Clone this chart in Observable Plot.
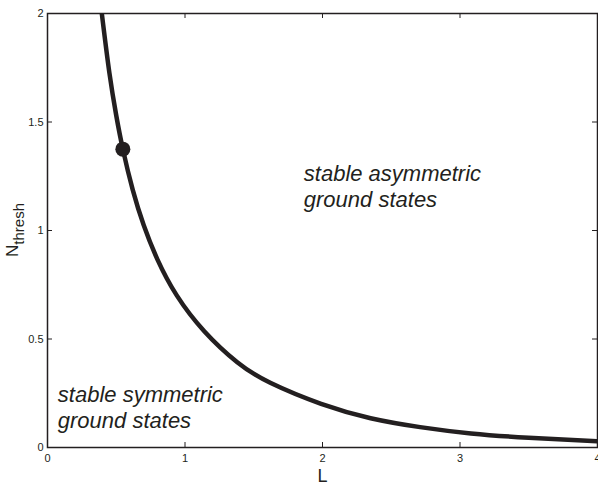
<!DOCTYPE html>
<html>
<head>
<meta charset="utf-8">
<script src="https://cdn.jsdelivr.net/npm/d3@7"></script>
<script src="https://cdn.jsdelivr.net/npm/@observablehq/plot@0.6"></script>
<style>
  html, body { margin: 0; padding: 0; background: #fff; }
  #chart { width: 598px; height: 484px; }
</style>
</head>
<body>
<div id="chart"></div>
<script>
// Curve: threshold norm vs L
const Lvals = [0.395, 0.45, 0.50, 0.548, 0.62, 0.70, 0.80, 0.94, 1.14, 1.38, 1.62, 1.99, 2.35, 2.71, 3.08, 3.5, 4.0];
const Nvals = [2.0, 1.727, 1.53, 1.375, 1.187, 1.024, 0.866, 0.701, 0.536, 0.393, 0.298, 0.201, 0.135, 0.094, 0.065, 0.045, 0.029];
// Marked point on the curve
const markL = [0.548];
const markN = [1.375];
// Ticks
const xTicks = [0, 1, 2, 3, 4];
const xTickLabels = ["0", "1", "2", "3", "4"];
const yTicks = [0, 0.5, 1, 1.5, 2];
const yTickLabels = ["0", "0.5", "1", "1.5", "2"];
// Region annotations
const annoText = ["stable asymmetric\nground states", "stable symmetric\nground states"];
const annoL = [1.864, 0.075];
const annoN = [1.315, 0.296];

const curve = Lvals.map((L, i) => ({L, N: Nvals[i]}));
const marks = markL.map((L, i) => ({L, N: markN[i]}));
const annos = annoText.map((t, i) => ({t, L: annoL[i], N: annoN[i]}));

const W = 598, H = 484;
const mL = 47, mR = 1, mT = 13, mB = 37;
const fw = W - mL - mR, fh = H - mT - mB;
const ink = "#231f20";
const font = "'Liberation Sans', Arial, Helvetica, sans-serif";

const plot = Plot.plot({
  width: W, height: H,
  marginLeft: mL, marginRight: mR, marginTop: mT, marginBottom: mB,
  style: {fontFamily: font, background: "#fff", color: ink},
  x: {domain: [0, 4]},
  y: {domain: [0, 2]},
  marks: [
    Plot.axisX({anchor: "bottom", ticks: xTicks, tickSize: 0, tickPadding: 7, fontSize: 11, label: null, fill: ink,
      tickFormat: (d) => xTickLabels[xTicks.indexOf(d)]}),
    Plot.axisY({anchor: "left", ticks: yTicks, tickSize: 0, tickPadding: 4, fontSize: 11, label: null, fill: ink,
      tickFormat: (d) => yTickLabels[yTicks.indexOf(d)]}),
    // inward ticks on all four sides
    Plot.tickX(xTicks, {x: d => d, insetTop: fh - 5, stroke: ink, strokeWidth: 1}),
    Plot.tickX(xTicks, {x: d => d, insetBottom: fh - 5, stroke: ink, strokeWidth: 1}),
    Plot.tickY(yTicks, {y: d => d, insetRight: fw - 5, stroke: ink, strokeWidth: 1}),
    Plot.tickY(yTicks, {y: d => d, insetLeft: fw - 5, stroke: ink, strokeWidth: 1}),
    Plot.line(curve, {x: "L", y: "N", stroke: ink, strokeWidth: 4.5, curve: "natural", clip: true}),
    Plot.dot(marks, {x: "L", y: "N", r: 7.5, fill: ink, stroke: "none"}),
    Plot.text(annos, {x: "L", y: "N", text: "t", textAnchor: "start", lineAnchor: "top",
      fontSize: 22, fontStyle: "italic", lineHeight: 1.2, fill: ink}),
    Plot.text(["L"], {frameAnchor: "bottom", text: d => d, dy: 34, lineAnchor: "bottom", fontSize: 18, fill: ink}),
    Plot.frame({stroke: ink, strokeWidth: 1.5})
  ]
});

document.getElementById("chart").appendChild(plot);

// Y-axis label with subscript
const svg = d3.select(plot);
const yl = svg.append("text")
  .attr("transform", `translate(18,${mT + fh / 2}) rotate(-90)`)
  .attr("text-anchor", "middle")
  .attr("fill", ink)
  .attr("font-family", font);
yl.append("tspan").attr("font-size", 17).text("N");
yl.append("tspan").attr("font-size", 15).attr("dy", 6).text("thresh");
</script>
</body>
</html>
